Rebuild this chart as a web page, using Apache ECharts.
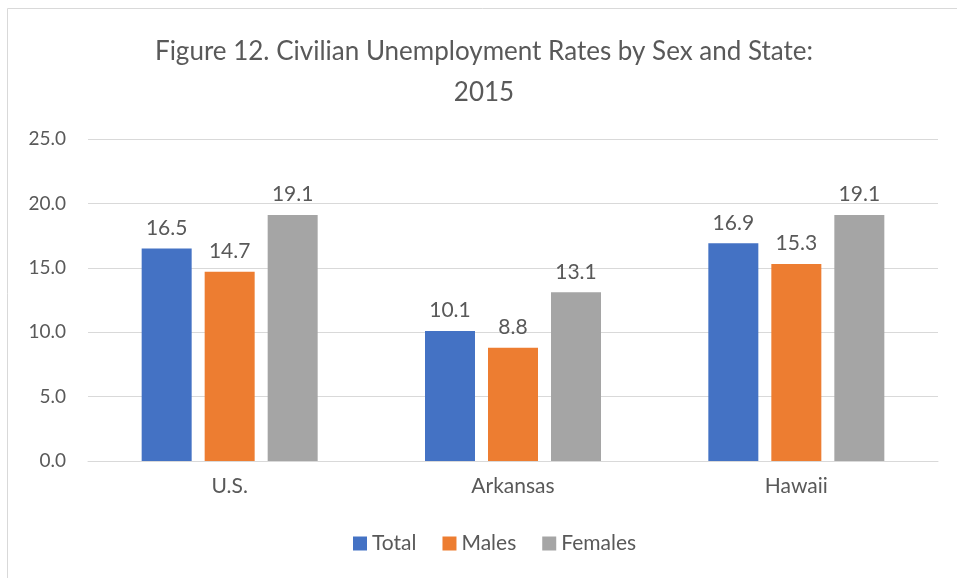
<!DOCTYPE html>
<html>
<head>
<meta charset="utf-8">
<script src="https://cdn.jsdelivr.net/npm/echarts@6/dist/echarts.min.js"></script>
<style>
  html, body { margin: 0; padding: 0; background: #fff; }
  #chart { width: 957px; height: 578px; }
</style>
</head>
<body>
<div id="chart"></div>
<script>
const categories = ['U.S.', 'Arkansas', 'Hawaii'];
const totalValues = [16.5, 10.1, 16.9];
const maleValues = [14.7, 8.8, 15.3];
const femaleValues = [19.1, 13.1, 19.1];
const seriesNames = ['Total', 'Males', 'Females'];
const seriesColors = ['#4472c4', '#ed7d31', '#a5a5a5'];

const font = 'Lato, "Open Sans", sans-serif';
const textColor = '#595959';

const chart = echarts.init(document.getElementById('chart'));

const makeSeries = (name, data, color) => ({
  name,
  type: 'bar',
  data,
  barWidth: 50,
  barGap: '26%',
  itemStyle: { color },
  label: {
    show: true,
    position: 'top',
    distance: 10,
    formatter: (p) => p.value.toFixed(1),
    color: textColor,
    fontFamily: font,
    fontSize: 21,
  },
});

chart.setOption({
  animation: false,
  graphic: [{
    type: 'rect',
    shape: { x: 7.5, y: 8.5, width: 1000, height: 1000 },
    style: { fill: 'none', stroke: '#d9d9d9', lineWidth: 1 },
    silent: true,
  }],
  title: {
    text: 'Figure 12. Civilian Unemployment Rates by Sex and State:\n2015',
    left: 479,
    textAlign: 'center',
    top: 26,
    textStyle: {
      color: textColor,
      fontFamily: font,
      fontSize: 26,
      fontWeight: 'normal',
      lineHeight: 41,
    },
  },
  legend: {
    data: seriesNames,
    bottom: 19,
    left: 348,
    itemWidth: 14,
    itemHeight: 14,
    itemGap: 26,
    icon: 'rect',
    textStyle: { color: textColor, fontFamily: font, fontSize: 21 },
  },
  grid: { left: 88, right: 19, top: 139, bottom: 117, containLabel: false },
  xAxis: {
    type: 'category',
    data: categories,
    axisLine: { lineStyle: { color: '#d9d9d9', width: 1 } },
    axisTick: { show: false },
    axisLabel: { color: textColor, fontFamily: font, fontSize: 21, margin: 15 },
  },
  yAxis: {
    type: 'value',
    min: 0,
    max: 25,
    interval: 5,
    axisLine: { show: false },
    axisTick: { show: false },
    splitLine: { lineStyle: { color: '#d9d9d9', width: 1 } },
    axisLabel: {
      color: textColor,
      fontFamily: font,
      fontSize: 19,
      margin: 22,
      formatter: (v) => v.toFixed(1),
    },
  },
  series: [
    makeSeries(seriesNames[0], totalValues, seriesColors[0]),
    makeSeries(seriesNames[1], maleValues, seriesColors[1]),
    makeSeries(seriesNames[2], femaleValues, seriesColors[2]),
  ],
});
</script>
</body>
</html>
